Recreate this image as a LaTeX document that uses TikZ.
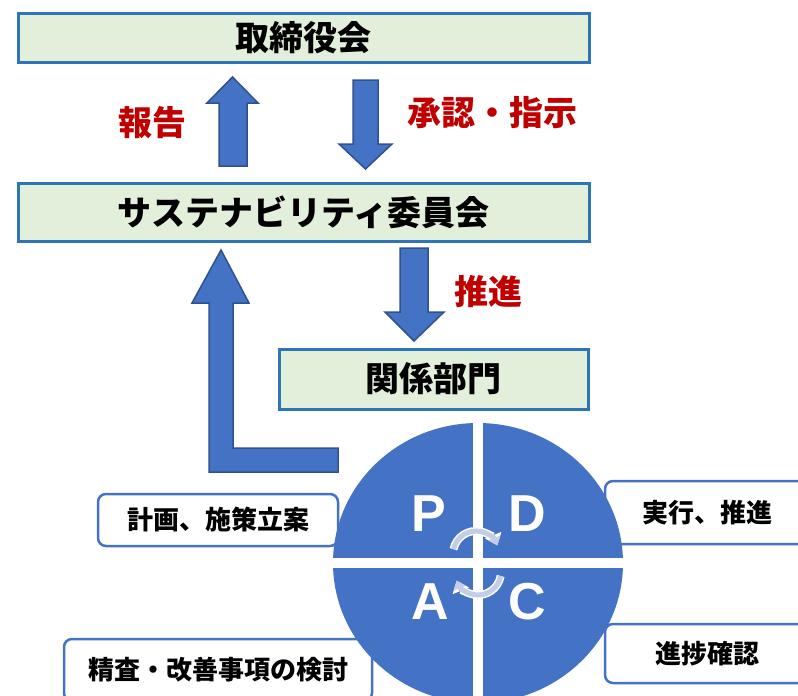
\documentclass[tikz,border=0pt]{standalone}
\usepackage{fontspec}
\setmainfont{Noto Sans CJK JP}
\newfontfamily\latinbold{Liberation Sans}
\usetikzlibrary{arrows.meta}
\definecolor{boxfill}{HTML}{E2EFDA}
\definecolor{boxline}{HTML}{2E75B6}
\definecolor{accent}{HTML}{4472C4}
\definecolor{accentdark}{HTML}{2F528F}
\definecolor{labelred}{HTML}{C00000}
\definecolor{lavender}{HTML}{C3CCE8}
\tikzset{
  mainbox/.style={draw=boxline, line width=3pt, fill=boxfill, inner sep=0pt,
    font=\bfseries\fontsize{34}{40}\selectfont},
  sidebox/.style={draw=accent, line width=2.5pt, fill=white, rounded corners=8pt, inner sep=0pt,
    font=\bfseries\fontsize{26}{31}\selectfont},
  redlabel/.style={text=labelred, inner sep=0pt, font=\bfseries\fontsize{34}{40}\selectfont},
  blockarrow/.style={fill=accent, draw=accentdark, line width=1.5pt, line join=miter},
  pdcaletter/.style={text=white, inner sep=0pt, font=\latinbold\bfseries\fontsize{52}{60}\selectfont},
  cycleouter/.style={draw=white, line width=8pt, -{Triangle[width=17pt,length=11pt]}},
  cycleinner/.style={draw=lavender, line width=5pt, -{Triangle[width=12.5pt,length=8pt]}}
}
\begin{document}
\begin{tikzpicture}[x=1pt,y=-1pt]
\useasboundingbox (0,0) rectangle (798,696);
\clip (0,0) rectangle (798,696);

% main boxes
\node[mainbox, minimum width=571pt, minimum height=49pt] (board) at (303.5,37.5) {取締役会};
\node[mainbox, minimum width=571pt, minimum height=58pt] (committee) at (303.5,212) {サステナビリティ委員会};
\node[mainbox, minimum width=309pt, minimum height=60pt] (dept) at (433.5,379) {関係部門};

% block arrows
\path[blockarrow] (232.5,77) -- (258,103) -- (247,103) -- (247,166) -- (219,166) -- (219,103) -- (207,103) -- cycle;
\path[blockarrow] (365.5,169) -- (392,144) -- (378,144) -- (378,80) -- (353,80) -- (353,144) -- (339,144) -- cycle;
\path[blockarrow] (414,341) -- (444,312) -- (428,312) -- (428,248) -- (400,248) -- (400,312) -- (385,312) -- cycle;
\path[blockarrow] (221,250) -- (249,303) -- (233,303) -- (233,448) -- (338,448) -- (338,472) -- (209,472) -- (209,303) -- (192,303) -- cycle;

% red labels
\node[redlabel] (report) at (152,123) {報告};
\node[redlabel] (approve) at (492,113) {承認・指示};
\node[redlabel] (promote) at (488,292) {推進};

% side boxes
\node[sidebox, minimum width=240pt, minimum height=52pt] (plan) at (218,520) {計画、施策立案};
\node[sidebox, minimum width=308pt, minimum height=62pt] (act) at (218,670) {精査・改善事項の検討};
\node[sidebox, minimum width=204pt, minimum height=63pt] (do) at (707,512.5) {実行、推進};
\node[sidebox, minimum width=204pt, minimum height=59pt] (check) at (707,653.5) {進捗確認};

% PDCA circle
\coordinate (cc) at (478,563);
\fill[accent] (cc) ellipse [x radius=145pt, y radius=140pt];
\begin{scope}
  \clip (cc) ellipse [x radius=146pt, y radius=141pt];
  \fill[white] (473,400) rectangle (483,720);
  \fill[white] (320,558) rectangle (640,568);
\end{scope}

\node[pdcaletter] (P) at (429,514) {P};
\node[pdcaletter] (D) at (527,514) {D};
\node[pdcaletter] (A) at (430,602) {A};
\node[pdcaletter] (C) at (527,602) {C};

% cycle arrows (canvas angles: y axis of polar coordinates points up)
\coordinate (uc) at (476,554);
\coordinate (lc) at (478,572);
\draw[cycleouter] ([shift={(168:23pt)}]uc) arc[start angle=168, end angle=22, radius=23pt];
\draw[cycleinner] ([shift={(168:23pt)}]uc) arc[start angle=168, end angle=22, radius=23pt];
\draw[cycleouter] ([shift={(-10:23pt)}]lc) arc[start angle=-10, end angle=-158, radius=23pt];
\draw[cycleinner] ([shift={(-10:23pt)}]lc) arc[start angle=-10, end angle=-158, radius=23pt];
\end{tikzpicture}
\end{document}
